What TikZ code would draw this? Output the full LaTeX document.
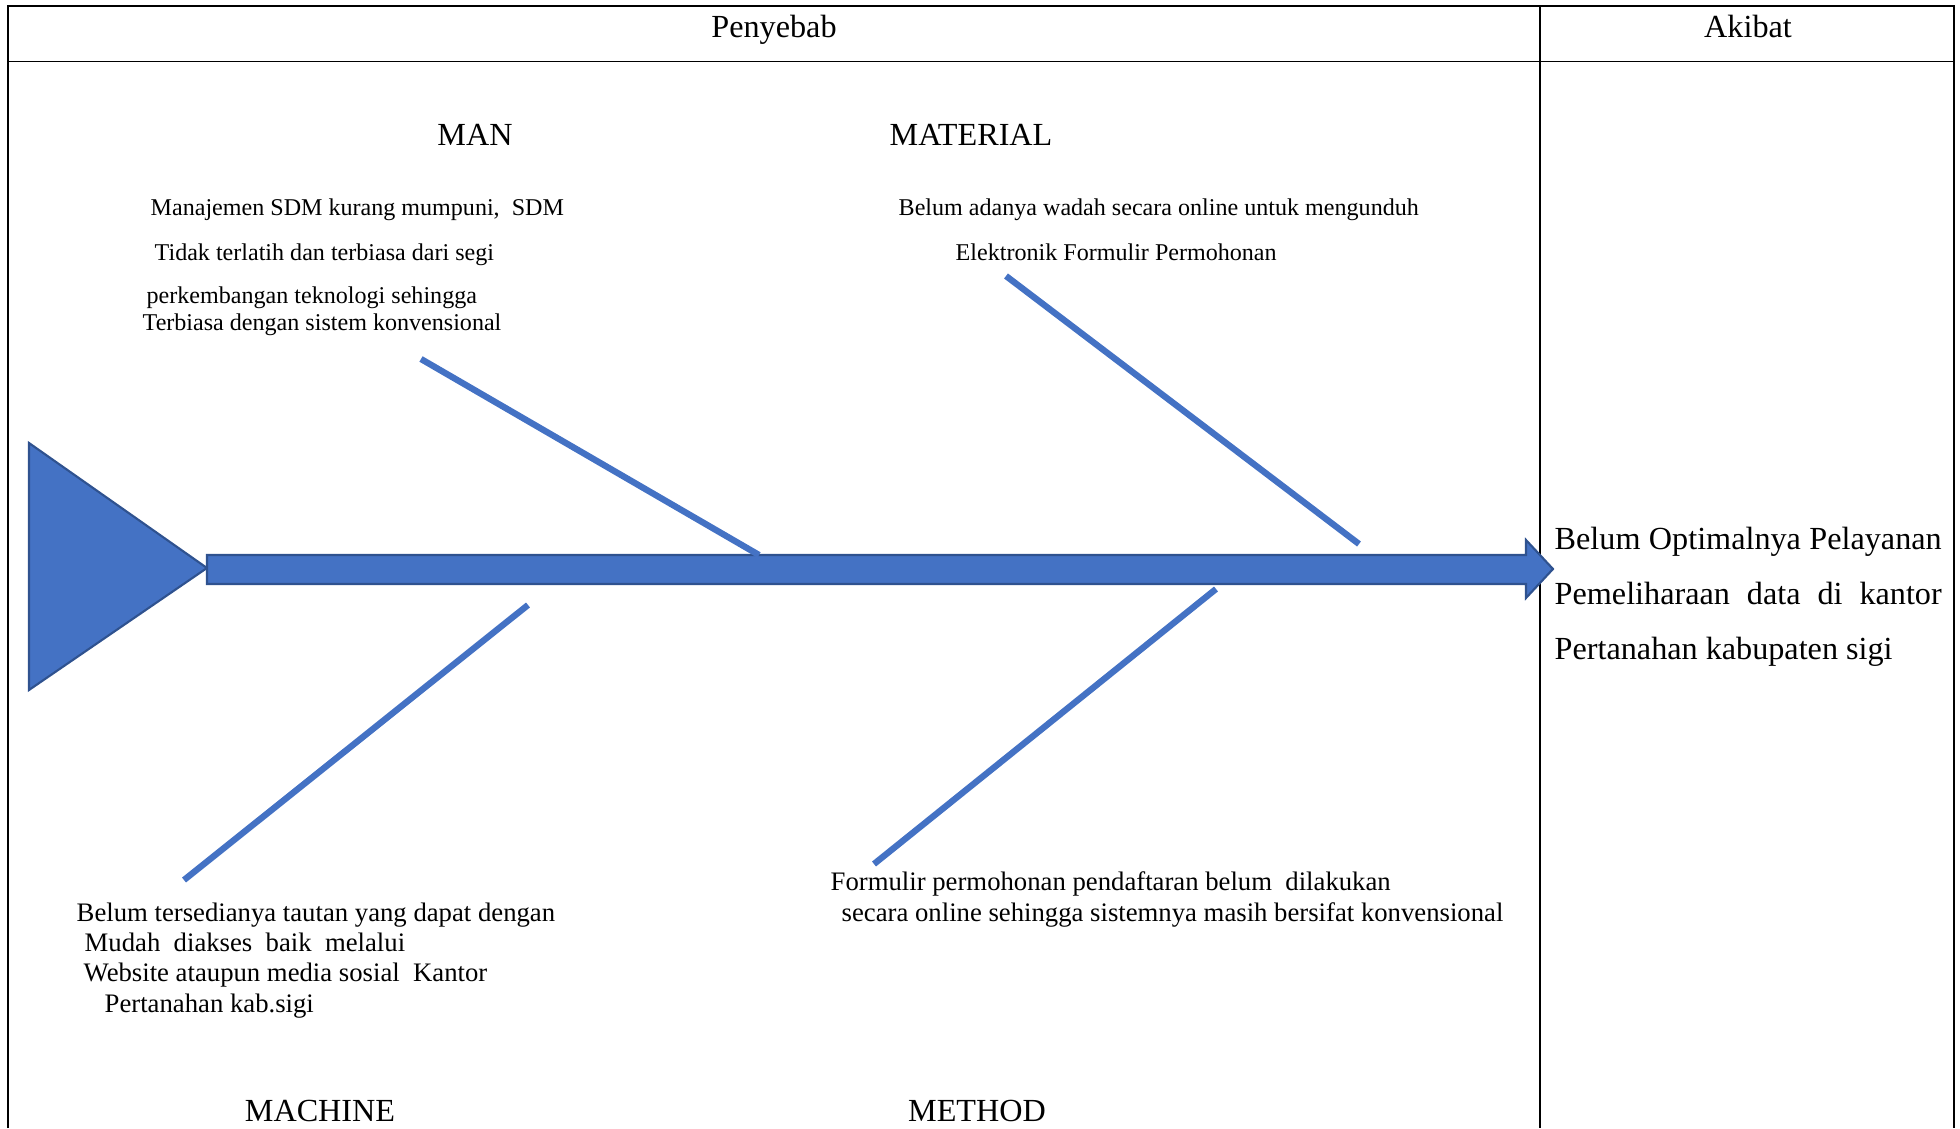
\documentclass[tikz,border=0pt]{standalone}
\usepackage{fontspec}
\setmainfont{Liberation Serif}
\usetikzlibrary{shapes}
\definecolor{biru}{HTML}{4472C4}
\definecolor{birutua}{HTML}{2F528F}

\begin{document}
\begin{tikzpicture}[
  judul/.style={inner sep=0, anchor=base, font=\fontsize{9.16}{11}\selectfont},
  ket/.style={inner sep=0, anchor=base west, font=\fontsize{6.85}{8}\selectfont},
  ketb/.style={inner sep=0, anchor=base west, font=\fontsize{7.6}{9}\selectfont},
  akibat/.style={inner sep=0, anchor=base west, font=\fontsize{9.16}{11}\selectfont},
  tulang/.style={draw=biru, line width=1.8pt},
  garis/.style={line width=0.5pt}]
\useasboundingbox (0,0) rectangle (19.6,11.28);

% tabel
\draw[garis] (0.08,0) -- (0.08,11.22) -- (19.54,11.22) -- (19.54,0);
\draw[garis] (0.08,10.665) -- (19.54,10.665);
\draw[garis] (15.40,11.22) -- (15.40,0);

\node[judul] (1) at (7.74,10.905) {Penyebab};
\node[judul] (2) at (17.48,10.905) {Akibat};

% kepala dan tulang punggung
\filldraw[fill=biru, draw=birutua, line width=0.6pt] (0.29,6.85) -- (2.07,5.60) -- (0.29,4.38) -- cycle;
\filldraw[fill=biru, draw=birutua, line width=0.6pt] (2.07,5.44) -- (2.07,5.73) -- (15.26,5.73) -- (15.26,5.88)
  -- (15.53,5.59) -- (15.26,5.30) -- (15.26,5.44) -- cycle;

% tulang
\coordinate (3a) at (4.21,7.69);
\coordinate (3b) at (7.59,5.73);
\coordinate (4a) at (10.06,8.52);
\coordinate (4b) at (13.59,5.84);
\coordinate (5a) at (5.28,5.23);
\coordinate (5b) at (1.84,2.48);
\coordinate (6a) at (12.16,5.39);
\coordinate (6b) at (8.74,2.64);
\draw[tulang] (3a) -- (3b);
\draw[tulang] (4a) -- (4b);
\draw[tulang] (5a) -- (5b);
\draw[tulang] (6a) -- (6b);

\node[judul] (7) at (4.75,9.825) {MAN};
\node[judul] (8) at (9.71,9.825) {MATERIAL};
\node[judul] (9) at (3.20,0.07) {MACHINE};
\node[judul] (10) at (9.77,0.07) {METHOD};

\node[ket] (11) at (1.50,9.125) {Manajemen SDM kurang mumpuni,\ \ SDM};
\node[ket] (12) at (1.54,8.675) {Tidak terlatih dan terbiasa dari segi};
\node[ket] (13) at (1.46,8.245) {perkembangan teknologi sehingga};
\node[ket] (14) at (1.42,7.975) {Terbiasa dengan sistem konvensional};

\node[ket] (15) at (8.98,9.125) {Belum adanya wadah secara online untuk mengunduh};
\node[ket] (16) at (9.55,8.675) {Elektronik Formulir Permohonan};

\node[ketb] (17) at (0.76,2.07) {Belum tersedianya tautan yang dapat dengan};
\node[ketb] (18) at (0.84,1.77) {Mudah\ \ diakses\ \ baik\ \ melalui};
\node[ketb] (19) at (0.83,1.47) {Website ataupun media sosial\ \ Kantor};
\node[ketb] (20) at (1.04,1.16) {Pertanahan kab.sigi};

\node[ketb] (21) at (8.30,2.38) {Formulir permohonan pendaftaran belum\ \ dilakukan};
\node[ketb] (22) at (8.41,2.07) {secara online sehingga sistemnya masih bersifat konvensional};

\node[akibat] (23) at (15.54,5.79) {\makebox[3.87cm][s]{Belum Optimalnya Pelayanan}};
\node[akibat] (24) at (15.54,5.24) {\makebox[3.87cm][s]{Pemeliharaan data di kantor}};
\node[akibat] (25) at (15.54,4.69) {Pertanahan kabupaten sigi};
\end{tikzpicture}
\end{document}
